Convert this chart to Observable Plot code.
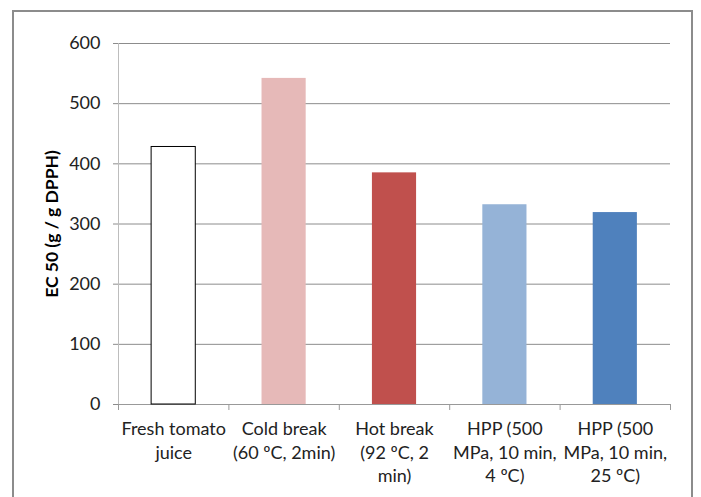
<!DOCTYPE html>
<html>
<head>
<meta charset="utf-8">
<script src="https://cdn.jsdelivr.net/npm/d3@7"></script>
<script src="https://cdn.jsdelivr.net/npm/@observablehq/plot@0.6"></script>
<style>
  html, body { margin: 0; padding: 0; background: #fff; }
  #wrap { position: relative; width: 701px; height: 497px; overflow: hidden; }
  #border { position: absolute; left: 12px; top: 10px; width: 681px; height: 530px; border: 2px solid #8c8c8c; box-sizing: border-box; pointer-events: none; }
  #chart { position: absolute; left: 0; top: 0; }
</style>
</head>
<body>
<div id="wrap"><div id="chart"></div><div id="border"></div></div>
<script>
const categories = ["Fresh tomato\njuice", "Cold break\n(60 ºC, 2min)", "Hot break\n(92 ºC, 2\nmin)", "HPP (500\nMPa, 10 min,\n4 ºC)", "HPP (500\nMPa, 10 min,\n25 ºC)"];
const values = [428, 542, 385, 332, 319];
const fills = ["#FFFFFF", "#E6B9B8", "#C0504D", "#95B3D7", "#4F81BD"];
const strokes = ["#000000", "none", "none", "none", "none"];
const yTicks = [0, 100, 200, 300, 400, 500, 600];
const yLabel = "EC 50 (g / g DPPH)";

const data = categories.map((c, i) => ({i, label: c, value: values[i], fill: fills[i], stroke: strokes[i]}));
const boundaries = d3.range(categories.length + 1);

const chart = Plot.plot({
  width: 701,
  height: 497,
  marginLeft: 118,
  marginRight: 31,
  marginTop: 43,
  marginBottom: 93,
  style: {fontFamily: "Lato", fontSize: "18px", background: "transparent", color: "#000"},
  x: {type: "linear", domain: [0, categories.length], axis: null},
  y: {domain: [0, 600], axis: null},
  color: {type: "identity"},
  marks: [
    Plot.gridY(yTicks, {stroke: "#8c8c8c", strokeOpacity: 1}),
    Plot.axisY({ticks: yTicks, tickSize: 5, tickPadding: 13, stroke: "#8c8c8c", strokeOpacity: 1, fontSize: 18, label: null, fill: "#222"}),
    Plot.ruleX([0], {stroke: "#bdbdbd"}),
    Plot.ruleY([0], {stroke: "#999999"}),
    Plot.axisX({ticks: boundaries, tickSize: 6, tickFormat: () => "", stroke: "#999999", strokeOpacity: 1, label: null}),
    Plot.rectY(data, {x1: d => d.i + 0.3, x2: d => d.i + 0.7, y: "value", fill: "fill", stroke: "stroke", strokeWidth: 1}),
    Plot.text(data, {x: d => d.i + 0.5, y: 0, text: "label", lineAnchor: "top", dy: 14, lineHeight: 1.3, fontSize: 18, fill: "#222"}),
    Plot.text([yLabel], {frameAnchor: "left", textAnchor: "middle", rotate: -90, dx: -66, fontWeight: "bold", fontSize: 17.5, fill: "#000"})
  ]
});
document.getElementById("chart").appendChild(chart);
</script>
</body>
</html>
